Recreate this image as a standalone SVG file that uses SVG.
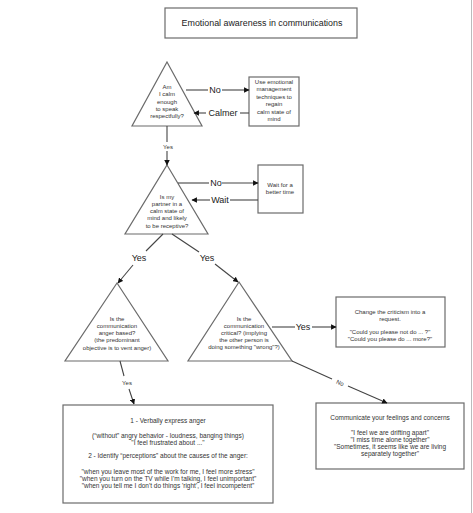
<svg xmlns="http://www.w3.org/2000/svg" width="473" height="513" viewBox="0 0 473 513">
<style>
.shape{fill:#fff;stroke:#6b6b6b;stroke-width:1.2}
.ln{fill:none;stroke:#444;stroke-width:1.1}
text{font-family:"Liberation Sans",Arial,sans-serif;fill:#333;text-anchor:middle}
.s{font-size:6px}
.m{font-size:6.5px}
.lb{font-size:9px;fill:#222}
.t{font-size:8.9px;fill:#222}
</style>
<defs>
<marker id="ah" viewBox="0 0 10 10" refX="9" refY="5" markerWidth="5" markerHeight="5" orient="auto">
<path d="M0,0 L10,5 L0,10 z" fill="#111"/>
</marker>
</defs>
<rect width="473" height="513" fill="#fff"/>
<line x1="471.5" y1="0" x2="471.5" y2="513" stroke="#bbb" stroke-width="1"/>
<g id="title">
<rect class="shape" x="165" y="8" width="192" height="30"/>
<text class="t" x="262" y="26">Emotional awareness in communications</text>
</g>
<g id="q1">
<polygon class="shape" points="167,62 202,126 132,126"/>
<text class="s" x="167" y="89">Am</text>
<text class="s" x="167" y="96">I calm</text>
<text class="s" x="167" y="104">enough</text>
<text class="s" x="167" y="111">to speak</text>
<text class="s" x="167" y="118">respectfully?</text>
</g>
<g id="calm">
<rect class="shape" x="249" y="77" width="50" height="49"/>
<text class="s" x="274" y="84">Use emotional</text>
<text class="s" x="274" y="91">management</text>
<text class="s" x="274" y="99">techniques to</text>
<text class="s" x="274" y="106">regain</text>
<text class="s" x="274" y="114">calm state of</text>
<text class="s" x="274" y="121">mind</text>
</g>
<g id="q2">
<polygon class="shape" points="167,165 208,234 125,234"/>
<text class="s" x="167" y="199">Is my</text>
<text class="s" x="167" y="206">partner in a</text>
<text class="s" x="167" y="213">calm state of</text>
<text class="s" x="167" y="220">mind and likely</text>
<text class="s" x="167" y="228">to be receptive?</text>
</g>
<g id="wait">
<rect class="shape" x="258" y="165" width="45" height="48"/>
<text class="s" x="280" y="187">Wait for a</text>
<text class="s" x="280" y="194">better time</text>
</g>
<g id="q3">
<polygon class="shape" points="117,283 168,361 65,361"/>
<text class="s" x="117" y="321">Is the</text>
<text class="s" x="117" y="328">communication</text>
<text class="s" x="117" y="335">anger based?</text>
<text class="s" x="117" y="342">(the predominant</text>
<text class="s" x="117" y="350">objective is to vent anger)</text>
</g>
<g id="q4">
<polygon class="shape" points="239,282 292,361 188,361"/>
<text class="s" x="244" y="321">Is the</text>
<text class="s" x="244" y="328">communication</text>
<text class="s" x="244" y="335">critical? (implying</text>
<text class="s" x="244" y="342">the other person is</text>
<text class="s" x="244" y="349">doing  something "wrong"?)</text>
</g>
<g id="request">
<rect class="shape" x="336" y="297" width="109" height="50"/>
<text class="s" x="390" y="314">Change the criticism into a</text>
<text class="s" x="390" y="321">request.</text>
<text class="s" x="390" y="334">"Could you please not do ... ?"</text>
<text class="s" x="390" y="341">"Could you please do ... more?"</text>
</g>
<g id="anger">
<rect class="shape" x="63" y="405" width="210" height="98"/>
<text class="m" x="168" y="423">1 - Verbally express anger</text>
<text class="m" x="168" y="438">(“without” angry behavior - loudness, banging things)</text>
<text class="m" x="168" y="445">"I feel frustrated about ..."</text>
<text class="m" x="168" y="458">2 - Identify “perceptions” about the causes of the anger:</text>
<text class="m" x="168" y="474">"when you leave most of the work for me,  I feel more stress"</text>
<text class="m" x="168" y="481">"when you turn on the TV while I'm talking, I feel unimportant"</text>
<text class="m" x="168" y="488">"when you tell me I don't do things 'right', I feel incompetent"</text>
</g>
<g id="feelings">
<rect class="shape" x="316" y="403" width="148" height="66"/>
<text class="m" x="390" y="420">Communicate your feelings and concerns</text>
<text class="m" x="390" y="435">"I feel we are drifting apart"</text>
<text class="m" x="390" y="442">"I miss time alone together"</text>
<text class="m" x="390" y="449">"Sometimes, it seems like we are living</text>
<text class="m" x="390" y="456">separately together"</text>
</g>
<g id="connectors">
<line class="ln" x1="186" y1="90" x2="208" y2="90"/>
<line class="ln" x1="222" y1="90" x2="249" y2="90" marker-end="url(#ah)"/>
<text class="lb" x="215" y="93">No</text>
<line class="ln" x1="249" y1="113" x2="240" y2="113"/>
<line class="ln" x1="206" y1="113" x2="194" y2="113" marker-end="url(#ah)"/>
<text class="lb" x="223" y="116">Calmer</text>
<line class="ln" x1="167" y1="126" x2="167" y2="142"/>
<line class="ln" x1="167" y1="151" x2="167" y2="165" marker-end="url(#ah)"/>
<text class="s" x="168" y="149">Yes</text>
<line class="ln" x1="178" y1="183" x2="209" y2="183"/>
<line class="ln" x1="222" y1="183" x2="258" y2="183" marker-end="url(#ah)"/>
<text class="lb" x="216" y="186">No</text>
<line class="ln" x1="258" y1="200" x2="230" y2="200"/>
<line class="ln" x1="210" y1="200" x2="192" y2="200" marker-end="url(#ah)"/>
<text class="lb" x="220" y="203">Wait</text>
<line class="ln" x1="163" y1="234" x2="146" y2="251"/>
<line class="ln" x1="133" y1="265" x2="118" y2="283" marker-end="url(#ah)"/>
<text class="lb" x="139" y="261">Yes</text>
<line class="ln" x1="172" y1="234" x2="199" y2="252"/>
<line class="ln" x1="215" y1="264" x2="238" y2="282" marker-end="url(#ah)"/>
<text class="lb" x="207" y="261">Yes</text>
<line class="ln" x1="272" y1="327" x2="295" y2="327"/>
<line class="ln" x1="312" y1="327" x2="336" y2="327" marker-end="url(#ah)"/>
<text class="lb" x="303" y="330">Yes</text>
<line class="ln" x1="120" y1="361" x2="124" y2="376"/>
<line class="ln" x1="129" y1="389" x2="134" y2="404" marker-end="url(#ah)"/>
<text class="s" x="127" y="385">Yes</text>
<line class="ln" x1="292" y1="361" x2="332" y2="379"/>
<line class="ln" x1="348" y1="386" x2="387" y2="403" marker-end="url(#ah)"/>
<text class="s" x="340" y="385" transform="rotate(24 340 383)">No</text>
</g>
</svg>
